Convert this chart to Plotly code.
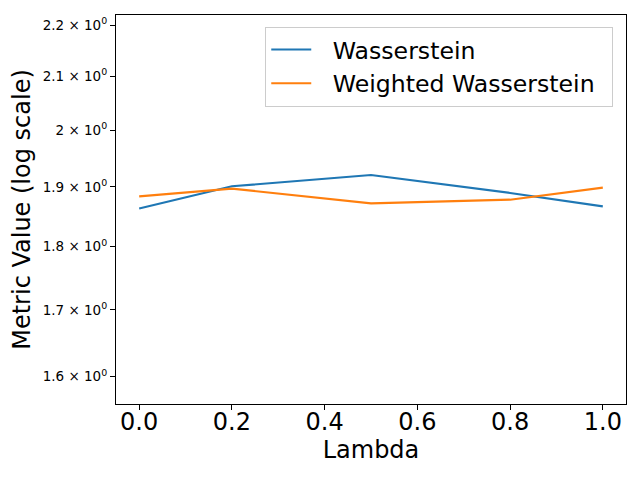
import math
import plotly.graph_objects as go

lambdas = [0.0, 0.2, 0.5, 0.8, 1.0]
wasserstein = [1.8634, 1.9011, 1.9207, 1.8897, 1.8669]
weighted_wasserstein = [1.8839, 1.8971, 1.8720, 1.8782, 1.8988]

y_tick_vals = [1.6, 1.7, 1.8, 1.9, 2.0, 2.1, 2.2]
y_tick_text = ["1.6 × 10<sup>0</sup>", "1.7 × 10<sup>0</sup>", "1.8 × 10<sup>0</sup>",
               "1.9 × 10<sup>0</sup>", "2 × 10<sup>0</sup>", "2.1 × 10<sup>0</sup>",
               "2.2 × 10<sup>0</sup>"]
x_tick_vals = [0.0, 0.2, 0.4, 0.6, 0.8, 1.0]
x_tick_text = ["0.0", "0.2", "0.4", "0.6", "0.8", "1.0"]
y_range = [1.561, 2.22]

font = "DejaVu Sans"
gap = "\u2002\u2009"

fig = go.Figure()
fig.add_trace(go.Scatter(x=lambdas, y=wasserstein, mode="lines", name=gap + "Wasserstein",
                         line=dict(color="#1f77b4", width=2.1)))
fig.add_trace(go.Scatter(x=lambdas, y=weighted_wasserstein, mode="lines",
                         name=gap + "Weighted Wasserstein\u2002",
                         line=dict(color="#ff7f0e", width=2.1)))

fig.update_layout(
    width=640, height=480,
    margin=dict(l=108, r=22, t=7, b=84),
    paper_bgcolor="white", plot_bgcolor="white",
    font=dict(family=font, color="black"),
    showlegend=True,
    legend=dict(x=0.975, y=0.97, xanchor="right", yanchor="top",
                bgcolor="rgba(255,255,255,0.8)", bordercolor="#cccccc", borderwidth=1,
                font=dict(size=23.6, family=font), tracegroupgap=0, itemwidth=40),
)
fig.update_xaxes(
    range=[-0.05, 1.05], tickvals=x_tick_vals, ticktext=x_tick_text, automargin=False,
    showgrid=False, zeroline=False, showline=True, linecolor="black", linewidth=1.2, mirror=True,
    ticks="outside", ticklen=5, tickcolor="black", tickfont=dict(size=24, family=font),
    ticklabelstandoff=-9,
    title=dict(text="Lambda", font=dict(size=24, family=font), standoff=5),
)
fig.update_yaxes(
    type="log", range=[math.log10(y_range[0]), math.log10(y_range[1])],
    tickvals=y_tick_vals, ticktext=y_tick_text, automargin=False,
    showgrid=False, zeroline=False, showline=True, linecolor="black", linewidth=1.2, mirror=True,
    ticks="outside", ticklen=5, tickcolor="black", tickfont=dict(size=13.5, family=font),
    title=dict(text="Metric Value (log scale)", font=dict(size=24, family=font), standoff=10),
)

fig.write_html("out.html")
